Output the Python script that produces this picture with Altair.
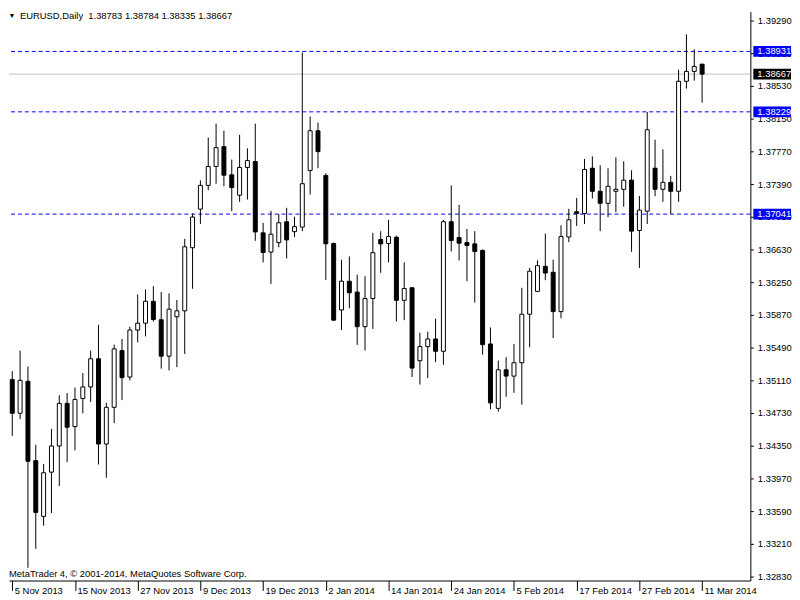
import altair as alt
import pandas as pd

# ---- data (EURUSD daily candles, 5 Nov 2013 .. 11 Mar 2014) ----
bar_index = list(range(89))
opens = [1.35118, 1.34727, 1.35098, 1.34177, 1.33529, 1.34043, 1.34347, 1.34842, 1.34572, 1.34899,
         1.35033, 1.35360, 1.34370, 1.34796, 1.35455, 1.35148, 1.35694, 1.35774, 1.36028, 1.35813,
         1.35390, 1.35848, 1.35917, 1.36650, 1.37099, 1.37375, 1.37594, 1.37824, 1.37497, 1.37260,
         1.37583, 1.37652, 1.36823, 1.36600, 1.36710, 1.36952, 1.36837, 1.36890, 1.37548, 1.38009,
         1.37490, 1.36699, 1.35927, 1.36261, 1.36135, 1.35733, 1.36060, 1.36746, 1.36699, 1.36772,
         1.36039, 1.36185, 1.35337, 1.35502, 1.35590, 1.35447, 1.36952, 1.36768, 1.36711, 1.36695,
         1.36619, 1.35532, 1.34784, 1.35232, 1.35159, 1.35314, 1.35878, 1.36143, 1.36434, 1.36365,
         1.35908, 1.36775, 1.37068, 1.37048, 1.37574, 1.37306, 1.37166, 1.37306, 1.37329, 1.37435,
         1.36851, 1.37075, 1.37574, 1.37329, 1.37410, 1.37306, 1.38584, 1.38699, 1.38783]
highs = [1.35217, 1.35455, 1.35271, 1.34361, 1.34139, 1.34546, 1.34937, 1.34963, 1.35026, 1.35194,
         1.35455, 1.35755, 1.34850, 1.35525, 1.35590, 1.35732, 1.36108, 1.36166, 1.36204, 1.36135,
         1.36120, 1.36043, 1.36753, 1.37048, 1.37433, 1.37931, 1.38092, 1.38009, 1.37675, 1.37962,
         1.37805, 1.38092, 1.36939, 1.37079, 1.37041, 1.37114, 1.37010, 1.38918, 1.38174, 1.38104,
         1.37516, 1.36711, 1.36511, 1.36549, 1.36339, 1.36319, 1.36823, 1.36843, 1.36975, 1.36791,
         1.36480, 1.36193, 1.35663, 1.35675, 1.35827, 1.36975, 1.37375, 1.37148, 1.36868, 1.36843,
         1.36630, 1.35724, 1.35340, 1.35378, 1.35532, 1.36185, 1.36416, 1.36503, 1.36814, 1.36511,
         1.36911, 1.37102, 1.37229, 1.37681, 1.37712, 1.37608, 1.37574, 1.37701, 1.37655, 1.37551,
         1.37252, 1.38227, 1.37905, 1.37793, 1.37485, 1.38718, 1.39129, 1.38956, 1.38784]
lows = [1.34465, 1.34658, 1.32931, 1.33152, 1.33421, 1.33567, 1.33881, 1.34158, 1.34296, 1.34727,
        1.34860, 1.34132, 1.33978, 1.34612, 1.34880, 1.35110, 1.35551, 1.35620, 1.35793, 1.35245,
        1.35225, 1.35263, 1.35417, 1.36174, 1.36927, 1.37318, 1.37394, 1.37364, 1.37075, 1.37183,
        1.37209, 1.36730, 1.36480, 1.36230, 1.36655, 1.36526, 1.36775, 1.36843, 1.37268, 1.37574,
        1.36276, 1.35800, 1.35694, 1.35947, 1.35521, 1.35455, 1.35706, 1.36359, 1.36480, 1.35793,
        1.35809, 1.35148, 1.35061, 1.35136, 1.35321, 1.35291, 1.36607, 1.36503, 1.36261, 1.36012,
        1.35409, 1.34773, 1.34745, 1.34918, 1.34964, 1.34828, 1.35494, 1.36135, 1.36273, 1.35600,
        1.35831, 1.36715, 1.36904, 1.36927, 1.37222, 1.36843, 1.37004, 1.37063, 1.37126, 1.36603,
        1.36416, 1.36927, 1.37249, 1.37183, 1.37044, 1.37183, 1.38499, 1.38592, 1.38335]
closes = [1.34727, 1.35110, 1.34169, 1.33575, 1.34036, 1.34347, 1.34842, 1.34565, 1.34888, 1.35033,
          1.35360, 1.34370, 1.34796, 1.35475, 1.35141, 1.35694, 1.35774, 1.36028, 1.35816, 1.35390,
          1.35936, 1.35917, 1.36661, 1.37007, 1.37375, 1.37594, 1.37813, 1.37493, 1.37349, 1.37583,
          1.37663, 1.36834, 1.36595, 1.36807, 1.36940, 1.36742, 1.36895, 1.37394, 1.38009, 1.37767,
          1.36696, 1.35809, 1.36261, 1.36127, 1.35733, 1.36060, 1.36593, 1.36695, 1.36780, 1.36039,
          1.36177, 1.35252, 1.35502, 1.35590, 1.35447, 1.36952, 1.36734, 1.36703, 1.36676, 1.36607,
          1.35524, 1.34848, 1.35232, 1.35159, 1.35314, 1.35878, 1.36377, 1.36442, 1.36357, 1.35908,
          1.36780, 1.36975, 1.37048, 1.37559, 1.37306, 1.37166, 1.37364, 1.37329, 1.37435, 1.36843,
          1.37087, 1.38021, 1.37329, 1.37410, 1.37306, 1.38584, 1.38699, 1.38757, 1.38667]

date_tick_positions = [0, 8, 16, 24, 32, 40, 48, 56, 64, 72, 80, 88]
date_tick_labels = ["5 Nov 2013", "15 Nov 2013", "27 Nov 2013", "9 Dec 2013", "19 Dec 2013",
                    "2 Jan 2014", "14 Jan 2014", "24 Jan 2014", "5 Feb 2014", "17 Feb 2014",
                    "27 Feb 2014", "11 Mar 2014"]
price_ticks = [1.32830, 1.33210, 1.33590, 1.33970, 1.34350, 1.34730, 1.35110, 1.35490, 1.35870,
               1.36250, 1.36630, 1.37010, 1.37390, 1.37770, 1.38150, 1.38530, 1.38910, 1.39290]
level_prices = [1.38931, 1.38229, 1.37041]
bid_price = [1.38667]
header_symbol = "EURUSD,Daily"
header_ohlc = "1.38783 1.38784 1.38335 1.38667"
watermark = "MetaTrader 4, \u00a9 2001-2014, MetaQuotes Software Corp."

FONT = "Liberation Sans"
FS = 9.5
W, H = 748, 574

df = pd.DataFrame({"i": bar_index, "open": opens, "high": highs, "low": lows, "close": closes})
df["dir"] = ["up" if c >= o else "down" for o, c in zip(opens, closes)]

xscale = alt.Scale(domain=[-0.417, 94.157], nice=False, zero=False, padding=0)
yscale = alt.Scale(domain=[1.327838, 1.393936], nice=False, zero=False, padding=0)

label_js = "[" + ",".join("'%s'" % s for s in date_tick_labels) + "][round(datum.value/8)]"

x_axis = alt.Axis(orient="bottom", values=date_tick_positions, labelExpr=label_js,
                  tickSize=10, tickColor="black", domainColor="black", labelAlign="left",
                  labelOffset=2, labelBaseline="alphabetic", labelPadding=3, labelFont=FONT,
                  labelFontSize=FS, labelColor="black", labelFlush=False, labelOverlap=False,
                  grid=False, title=None)
y_axis = alt.Axis(orient="right", values=price_ticks, format=".5f", tickSize=3,
                  tickColor="black", domainColor="black", labelPadding=4, labelFont=FONT,
                  labelFontSize=FS, labelColor="black", labelFlush=False, labelOverlap=False,
                  grid=False, title=None)


def X(field):
    return alt.X(field, scale=xscale, axis=x_axis)


def Y(field):
    return alt.Y(field, scale=yscale, axis=y_axis)


base = alt.Chart(df)

wicks = base.mark_rule(color="black", strokeWidth=1).encode(
    x=X("i:Q"), y=Y("low:Q"), y2="high:Q",
)
bodies = base.mark_bar(size=4, stroke="black", strokeWidth=1).encode(
    x=X("i:Q"), y=Y("open:Q"), y2="close:Q",
    fill=alt.Fill("dir:N", scale=alt.Scale(domain=["up", "down"], range=["white", "black"]),
                  legend=None),
)

levels_df = pd.DataFrame({"p": level_prices})
bid_df = pd.DataFrame({"p": bid_price})

level_lines = alt.Chart(levels_df).mark_rule(color="#0000ff", strokeWidth=1, strokeDash=[4, 3]).encode(
    y=Y("p:Q"))
bid_line = alt.Chart(bid_df).mark_rule(color="#c0c0c0", strokeWidth=1).encode(y=Y("p:Q"))

level_boxes = alt.Chart(levels_df).mark_tick(orient="horizontal", size=38, thickness=11,
                                             color="#0000ff", opacity=1).encode(
    x=alt.value(770), y=Y("p:Q"))
level_text = alt.Chart(levels_df).mark_text(align="left", baseline="middle", color="white",
                                            font=FONT, fontSize=FS).encode(
    x=alt.value(755), y=Y("p:Q"), text=alt.Text("p:Q", format=".5f"))
bid_box = alt.Chart(bid_df).mark_tick(orient="horizontal", size=38, thickness=11,
                                      color="black", opacity=1).encode(
    x=alt.value(770), y=Y("p:Q"))
bid_text = alt.Chart(bid_df).mark_text(align="left", baseline="middle", color="white",
                                       font=FONT, fontSize=FS).encode(
    x=alt.value(755), y=Y("p:Q"), text=alt.Text("p:Q", format=".5f"))

tri = alt.Chart(pd.DataFrame({"t": ["\u25bc"]})).mark_text(
    align="center", baseline="middle", font=FONT, fontSize=7, color="black").encode(
    x=alt.value(3), y=alt.value(4.5), text="t:N")
hdr1 = alt.Chart(pd.DataFrame({"t": [header_symbol]})).mark_text(
    align="left", baseline="middle", font=FONT, fontSize=FS, color="black").encode(
    x=alt.value(11), y=alt.value(4.5), text="t:N")
hdr2 = alt.Chart(pd.DataFrame({"t": [header_ohlc]})).mark_text(
    align="left", baseline="middle", font=FONT, fontSize=FS, color="black").encode(
    x=alt.value(80), y=alt.value(4.5), text="t:N")
wm = alt.Chart(pd.DataFrame({"t": [watermark]})).mark_text(
    align="left", baseline="middle", font=FONT, fontSize=FS, color="black").encode(
    x=alt.value(0), y=alt.value(567), text="t:N")

chart = alt.layer(
    level_lines, bid_line, wicks, bodies,
    level_boxes, level_text, bid_box, bid_text,
    tri, hdr1, hdr2, wm,
).properties(width=W, height=H, padding=0, background="white").configure_view(stroke=None)

chart.save("out.html", embed_options={"renderer": "svg", "actions": False})
